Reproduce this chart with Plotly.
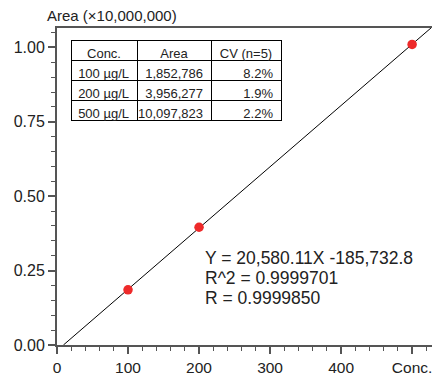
import plotly.graph_objects as go

# Calibration standards
conc = [100, 200, 500]                     # µg/L
area = [1852786, 3956277, 10097823]        # peak area
cv = ["8.2%", "1.9%", "2.2%"]              # CV (n=5)

# Regression results
slope = 20580.11
intercept = -185732.8
r_squared = 0.9999701
r_value = 0.9999850

scale = 1e7                                # area axis shown in units of 10,000,000
x_range = [0, 528]
y_range = [0, 1.065]

x_ticks = [0, 100, 200, 300, 400, 500]
x_ticktext = ["0", "100", "200", "300", "400", "Conc."]
y_ticks = [0, 0.25, 0.5, 0.75, 1.0]

FONT = "Liberation Sans, Arial, Helvetica, sans-serif"
AXIS_COLOR = "#555555"
TEXT_COLOR = "#222222"
NBSP = "\u00a0"

# Fitted line from its x-intercept to the right edge
x0 = -intercept / slope
x_fit = [x0, x_range[1]]
y_fit = [(slope * x + intercept) / scale for x in x_fit]

fig = go.Figure()

fig.add_trace(go.Scatter(
    x=x_fit, y=y_fit, mode="lines",
    line=dict(color="black", width=1),
    hoverinfo="skip", showlegend=False,
))

fig.add_trace(go.Scatter(
    x=conc, y=[a / scale for a in area], mode="markers",
    marker=dict(color="#ee2a2a", size=9.5, line=dict(width=0)),
    showlegend=False, cliponaxis=False,
))

# Summary table of the standards (non-breaking spaces keep each cell on one line)
header_vals = ["Conc.", "Area", f"CV{NBSP}(n=5)"]
cell_vals = [
    [f"{c}{NBSP}µg/L" for c in conc],
    [f"{a:,}" for a in area],
    cv,
]
fig.add_trace(go.Table(
    domain=dict(x=[(71 - 57) / 375, (281 - 57) / 375], y=[0.45, (352 - 41) / 324]),
    columnwidth=[66, 74, 70],
    header=dict(
        values=header_vals,
        align="center", height=20,
        fill_color="white",
        line=dict(color="black", width=1),
        font=dict(family=FONT, size=13, color=TEXT_COLOR),
    ),
    cells=dict(
        values=cell_vals,
        align="right", height=20,
        fill_color="white",
        line=dict(color="black", width=1),
        font=dict(family=FONT, size=13, color=TEXT_COLOR),
    ),
))

fig.update_xaxes(
    range=x_range, tickvals=x_ticks, ticktext=x_ticktext,
    showline=True, linecolor=AXIS_COLOR, linewidth=2, mirror=True,
    ticks="outside", ticklen=7, tickwidth=1.5, tickcolor=AXIS_COLOR,
    minor=dict(dtick=20, ticks="outside", ticklen=4, tickwidth=1, tickcolor=AXIS_COLOR),
    showgrid=False, zeroline=False, ticklabeloverflow="allow",
    tickfont=dict(family=FONT, size=15.5, color=TEXT_COLOR),
)
fig.update_yaxes(
    range=y_range, tickvals=y_ticks, tickformat=".2f",
    showline=True, linecolor=AXIS_COLOR, linewidth=2,
    ticks="outside", ticklen=7, tickwidth=1.5, tickcolor=AXIS_COLOR,
    minor=dict(dtick=0.05, ticks="outside", ticklen=4, tickwidth=1, tickcolor=AXIS_COLOR),
    showgrid=False, zeroline=False,
    tickfont=dict(family=FONT, size=16, color=TEXT_COLOR),
)

# Y-axis caption above the plot
fig.add_annotation(
    xref="paper", yref="paper", x=(45 - 57) / 375, y=1 + (28 - 15) / 324,
    xanchor="left", yanchor="middle", showarrow=False,
    text="Area (×10,000,000)",
    font=dict(family=FONT, size=15, color=TEXT_COLOR),
)

# Regression statistics
eq_lines = [
    f"Y = {slope:,.2f}X {intercept:,.1f}",
    f"R^2 = {r_squared:.7f}",
    f"R = {r_value:.7f}",
]
for i, line in enumerate(eq_lines):
    fig.add_annotation(
        x=205, y=0.293 - i * 0.067, xref="x", yref="y",
        xanchor="left", yanchor="middle", showarrow=False,
        text=line,
        font=dict(family=FONT, size=17.5, color=TEXT_COLOR),
    )

fig.update_layout(
    width=432, height=376,
    margin=dict(l=57, r=0, t=28, b=24),
    paper_bgcolor="white", plot_bgcolor="white",
    showlegend=False,
)

fig.write_html("out.html")
